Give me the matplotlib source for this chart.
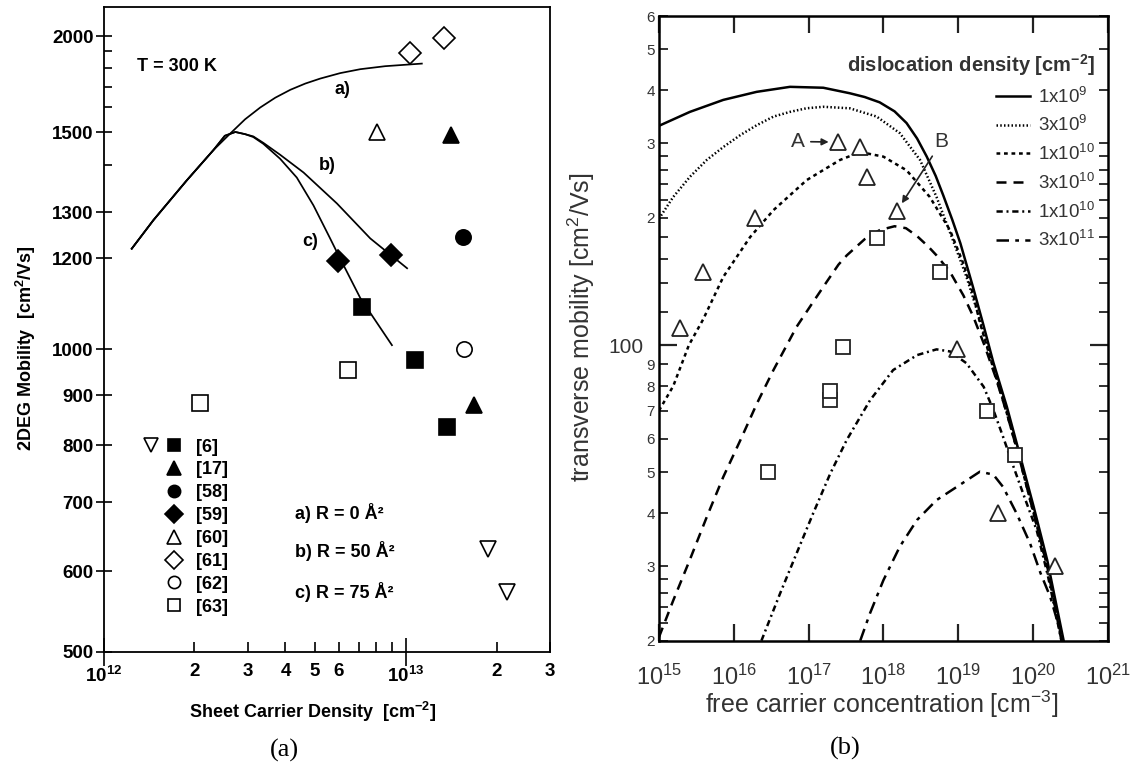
import numpy as np
import matplotlib
matplotlib.use('Agg')
import matplotlib.pyplot as plt
from matplotlib.lines import Line2D
from matplotlib.legend_handler import HandlerTuple
from matplotlib.ticker import NullLocator

plt.rcParams['font.family'] = ['Liberation Sans', 'DejaVu Sans']
plt.rcParams['mathtext.fontset'] = 'custom'
plt.rcParams['mathtext.rm'] = 'Liberation Sans'
plt.rcParams['mathtext.bf'] = 'Liberation Sans:bold'
plt.rcParams['mathtext.it'] = 'Liberation Sans:italic'

# ---------------- (a) 2DEG mobility vs sheet carrier density, T = 300 K
# measured points, one pair of lists per reference
ns_6 = [7.16e12, 1.07e13, 1.37e13]
mu_6 = [1088, 975, 835]
ns_6b = [1.87e13, 2.17e13]          # open down-triangles, also ref [6]
mu_6b = [630, 572]
ns_17 = [1.41e13, 1.68e13]
mu_17 = [1490, 880]
ns_58 = [1.55e13]
mu_58 = [1245]
ns_59 = [5.99e12, 8.95e12]
mu_59 = [1193, 1206]
ns_60 = [8.04e12]
mu_60 = [1500]
ns_61 = [1.035e13, 1.34e13]
mu_61 = [1890, 1985]
ns_62 = [1.56e13]
mu_62 = [1000]
ns_63 = [2.09e12, 6.46e12]
mu_63 = [884, 953]

# model curves a) R = 0, b) R = 50, c) R = 75 A^2
curve_a_ns = [1.24e12, 1.462e12, 1.886e12, 2.31e12, 2.62e12, 2.94e12, 3.30e12, 3.70e12, 4.15e12,
              4.65e12, 5.21e12, 6.07e12, 7.07e12, 8.55e12, 1.13e13]
curve_a_mu = [1220, 1282, 1367, 1445, 1495, 1551, 1599, 1647, 1687, 1719, 1745, 1774, 1795, 1812, 1827]
curve_b_ns = [1.24e12, 1.462e12, 1.886e12, 2.31e12, 2.52e12, 2.73e12, 2.94e12, 3.13e12, 3.38e12,
              3.84e12, 4.59e12, 5.92e12, 7.63e12, 1.01e13]
curve_b_mu = [1220, 1282, 1367, 1445, 1489, 1501, 1494, 1487, 1467, 1431, 1384, 1318, 1242, 1176]
curve_c_ns = [1.24e12, 1.462e12, 1.886e12, 2.31e12, 2.52e12, 2.73e12, 2.94e12, 3.13e12, 3.38e12,
              3.84e12, 4.36e12, 4.95e12, 5.62e12, 5.99e12, 7.07e12, 9.0e12]
curve_c_mu = [1220, 1282, 1367, 1445, 1489, 1501, 1494, 1485, 1464, 1419, 1373, 1314, 1242, 1206,
              1108, 1008]

# the printed mobility axis is not a clean log axis: tick values and their heights (px)
mu_ticks = [500, 600, 700, 800, 900, 1000, 1200, 1300, 1400, 1500, 1600, 1700, 1800, 1900, 2000, 2250]
mu_tick_h = [0, 81, 150, 207, 257, 303, 394, 440, 487, 520, 545, 565, 584, 601, 616, 645]

# ---------------- (b) transverse mobility vs free carrier concentration
n_1e9 = [1.0e15, 2.59e15, 7.24e15, 2.02e16, 5.64e16, 1.57e17, 3.55e17, 5.62e17, 8.91e17, 1.41e18,
         2.04e18, 2.82e18, 3.8e18, 5.01e18, 6.31e18, 8.32e18, 1.07e19, 1.58e19, 2.19e19, 2.95e19,
         4.47e19, 6.76e19, 1.02e20, 1.55e20, 2.57e20]
mu_1e9 = [330, 356, 380, 397, 408, 406, 394, 386, 375, 357, 335, 308, 279, 251, 226, 198, 174, 137,
          111, 91, 71.5, 54.5, 41.5, 31, 20]
n_3e9 = [1.0e15, 1.55e15, 2.59e15, 4.35e15, 7.24e15, 1.23e16, 2.02e16, 3.39e16, 5.64e16, 9.33e16,
         1.57e17, 3.55e17, 8.13e17, 1.66e18, 3.09e18, 5.13e18, 8.51e18, 1.29e19, 1.78e19, 2.95e19,
         4.47e19, 6.76e19, 1.02e20, 1.55e20, 2.45e20]
mu_3e9 = [199, 224, 250, 274, 294, 314, 331, 347, 356, 363, 366, 363, 347, 317, 274, 224, 177, 145,
          121, 89, 70, 53.5, 40.5, 30, 20]
n_1e10 = [1.0e15, 1.55e15, 2.51e15, 3.89e15, 7.24e15, 1.65e16, 3.39e16, 9.44e16, 2.63e17, 4.9e17,
          1.0e18, 2.04e18, 4.17e18, 7.76e18, 1.17e19, 1.58e19, 1.95e19, 2.95e19, 4.47e19, 6.76e19,
          1.02e20, 1.55e20, 2.45e20]
mu_1e10 = [70, 80, 100, 115, 145, 180, 208.5, 245.6, 274, 286, 279, 259, 224, 187, 156, 132, 113,
           88, 69, 53, 40, 30, 20]
n_3e10 = [1.0e15, 1.55e15, 2.57e15, 4.37e15, 7.24e15, 1.23e16, 2.04e16, 3.39e16, 6.92e16, 1.1e17,
          1.74e17, 2.51e17, 3.24e17, 5.62e17, 8.91e17, 1.41e18, 2.0e18, 2.82e18, 3.98e18, 5.13e18,
          7.76e18, 1.175e19, 1.585e19, 2.24e19, 3.16e19, 4.47e19, 6.76e19, 1.02e20, 1.55e20, 2.4e20]
mu_3e10 = [20.4, 24.9, 31, 39.3, 48.8, 59.7, 72.8, 87.3, 110.5, 125, 141, 155, 163, 178, 187, 191,
           189, 181, 171, 163, 149, 131, 117, 100, 84, 69, 53, 40, 30, 20]
n_1e11 = [2.34e16, 4.17e16, 6.92e16, 1.15e17, 1.95e17, 3.24e17, 6.61e17, 1.35e18, 2.82e18, 5.13e18,
          7.76e18, 1.29e19, 2.19e19, 2.95e19, 3.98e19, 5.5e19, 7.94e19, 1.12e20, 1.58e20, 2.4e20]
mu_1e11 = [20, 25.9, 32.2, 40, 49.7, 59.7, 74, 87.3, 94.7, 97.7, 96.6, 90.6, 79.7, 70.3, 60.7, 51.5,
           43, 36.5, 28.5, 20]
n_3e11 = [4.9e17, 6.61e17, 1.0e18, 1.66e18, 2.82e18, 5.13e18, 9.55e18, 1.95e19, 2.95e19, 3.98e19,
          6.03e19, 9.12e19, 1.26e20, 1.7e20, 2.29e20, 2.5e20]
mu_3e11 = [20, 23.2, 27.8, 33.4, 38.6, 43, 46.2, 50.2, 49.4, 46.2, 40, 34, 28.9, 25.4, 21.2, 20]

tri_n = [1.9e15, 3.9e15, 1.92e16, 2.5e17, 4.87e17, 6.0e17, 1.5e18, 9.5e18, 3.4e19, 1.97e20]
tri_mu = [110, 149, 200, 302, 294, 250, 207, 98, 40, 30]
sq_n = [2.9e16, 1.93e17, 1.93e17, 2.9e17, 8.1e17, 5.7e18, 2.4e19, 5.8e19]
sq_mu = [50, 74, 78, 99, 179, 149, 70, 55]

disl_labels = ['1x10$^{9}$', '3x10$^{9}$', '1x10$^{10}$', '3x10$^{10}$', '1x10$^{10}$', '3x10$^{11}$']

W, H = 1137, 765
fig = plt.figure(figsize=(W / 100, H / 100), dpi=100)

# ======================= panel (a)
ax = fig.add_axes([103.5 / W, 1 - 652 / H, 446.5 / W, 644.7 / H])
log_knots = np.log10(mu_ticks)


def fwd(v):
    return np.interp(np.log10(np.clip(v, 1e-9, None)), log_knots, mu_tick_h)


def inv(h):
    return 10 ** np.interp(h, mu_tick_h, log_knots)


ax.set_xscale('log')
ax.set_yscale('function', functions=(fwd, inv))
ax.set_xlim(1e12, 3e13)
ax.set_ylim(500, 2250)

lw = 1.25
for xs, ys in [(curve_a_ns, curve_a_mu), (curve_b_ns, curve_b_mu), (curve_c_ns, curve_c_mu)]:
    ax.plot(xs, ys, color='black', lw=lw, zorder=2, solid_joinstyle='round')

mk = dict(linestyle='none', color='black', mew=1.2, zorder=3)
h6, = ax.plot(ns_6, mu_6, marker='s', ms=11, **mk)
h6b, = ax.plot(ns_6b, mu_6b, marker='v', ms=12, mfc='white', **mk)
h17, = ax.plot(ns_17, mu_17, marker='^', ms=12, **mk)
h58, = ax.plot(ns_58, mu_58, marker='o', ms=11, **mk)
h59, = ax.plot(ns_59, mu_59, marker='D', ms=11, **mk)
h60, = ax.plot(ns_60, mu_60, marker='^', ms=12, mfc='white', **mk)
h61, = ax.plot(ns_61, mu_61, marker='D', ms=11, mfc='white', **mk)
h62, = ax.plot(ns_62, mu_62, marker='o', ms=11, mfc='white', **mk)
h63, = ax.plot(ns_63, mu_63, marker='s', ms=11, mfc='white', **mk)

blank = Line2D([], [], linestyle='none')
handles = [(h6b, h6), (blank, h17), (blank, h58), (blank, h59), (blank, h60),
           (blank, h61), (blank, h62), (blank, h63)]
ax.legend(handles, ['[6]', '[17]', '[58]', '[59]', '[60]', '[61]', '[62]', '[63]'],
          handler_map={tuple: HandlerTuple(ndivide=None, pad=0)}, numpoints=1,
          markerscale=0.8, loc='upper left', bbox_to_anchor=(0.0806, 0.331), frameon=False,
          borderpad=0, borderaxespad=0, handlelength=2.55, handletextpad=0.58,
          labelspacing=0.325, prop={'size': 13, 'weight': 'bold'})

ax.set_xticks([1e12, 1e13], [r'$\mathbf{10^{12}}$', r'$\mathbf{10^{13}}$'], fontweight='bold')
ax.set_xticks([2e12, 3e12, 4e12, 5e12, 6e12, 7e12, 8e12, 9e12, 2e13, 3e13],
              ['2', '3', '4', '5', '6', '', '', '', '2', '3'], minor=True, fontweight='bold')
lab_y = [500, 600, 700, 800, 900, 1000, 1200, 1300, 1500, 2000]
ax.set_yticks(lab_y, [str(v) for v in lab_y], fontweight='bold')
ax.set_yticks([1400, 1600, 1700, 1800, 1900], minor=True)
ax.tick_params(axis='x', which='major', direction='inout', length=20, width=1.2, pad=0, labelsize=13.5)
ax.tick_params(axis='x', which='minor', direction='in', length=7, width=1.2, pad=8, labelsize=13.5)
ax.tick_params(axis='y', which='major', direction='inout', length=11, width=1.2, pad=1.5, labelsize=13.5)
ax.tick_params(axis='y', which='minor', direction='in', length=6, width=1.2)
for s in ax.spines.values():
    s.set_linewidth(1.3)

ax.set_xlabel('Sheet Carrier Density  [cm$^{\\mathbf{-2}}$]', fontsize=13, fontweight='bold')
ax.xaxis.set_label_coords(0.468, -0.075)
ax.set_ylabel('2DEG Mobility  [cm$^{\\mathbf{2}}$/Vs]', fontsize=13, fontweight='bold')
ax.yaxis.set_label_coords(-0.147, 0.4715)

txt = dict(transform=ax.transAxes, fontsize=13, fontweight='bold', va='center')
ax.text(0.076, 0.908, 'T = 300 K', **txt)
ax.text(0.536, 0.872, 'a)', ha='center', **txt)
ax.text(0.500, 0.755, 'b)', ha='center', **txt)
ax.text(0.464, 0.636, 'c)', ha='center', **txt)
ax.text(0.428, 0.215, 'a) R = 0 Å²', **txt)
ax.text(0.428, 0.157, 'b) R = 50 Å²', **txt)
ax.text(0.428, 0.0935, 'c) R = 75 Å²', **txt)

# ======================= panel (b)
gray = '#333333'
bx = fig.add_axes([659 / W, 1 - 640.7 / H, 448.8 / W, 624.7 / H])
bx.set_xscale('log')
bx.set_yscale('log')
bx.set_xlim(1e15, 1e21)
bx.set_ylim(20, 600)

lwb = 1.8
bx.plot(n_1e9, mu_1e9, color='black', lw=lwb, ls='-', label=disl_labels[0])
bx.plot(n_3e9, mu_3e9, color='black', lw=lwb, ls=(0, (0.6, 0.9)), label=disl_labels[1])
bx.plot(n_1e10, mu_1e10, color='black', lw=lwb, ls=(0, (1.5, 1.5)), label=disl_labels[2])
bx.plot(n_3e10, mu_3e10, color='black', lw=lwb, ls=(0, (4, 2.8)), label=disl_labels[3])
bx.plot(n_1e11, mu_1e11, color='black', lw=lwb, ls=(0, (2.5, 1.5, 0.8, 1.5)), label=disl_labels[4])
bx.plot(n_3e11, mu_3e11, color='black', lw=lwb, ls=(0, (5, 2.5, 1.5, 2.5)), label=disl_labels[5])

bx.plot(tri_n, tri_mu, linestyle='none', marker='^', ms=11, mfc='white', mec='#222222', mew=1.3, zorder=4)
bx.plot(sq_n, sq_mu, linestyle='none', marker='s', ms=10, mfc='white', mec='#222222', mew=1.3, zorder=4)

bx.annotate('A', xy=(tri_n[3], tri_mu[3]), xycoords='data', xytext=(0.3104, 0.799),
            textcoords='axes fraction', fontsize=15, color=gray, ha='center', va='center',
            arrowprops=dict(arrowstyle='-|>', color='#222222', lw=1.2, shrinkA=2, shrinkB=7,
                            mutation_scale=10))
bx.annotate('B', xy=(tri_n[6], tri_mu[6]), xycoords='data', xytext=(0.63, 0.799),
            textcoords='axes fraction', fontsize=15, color=gray, ha='center', va='center',
            arrowprops=dict(arrowstyle='-|>', color='#222222', lw=1.2, shrinkA=2, shrinkB=7,
                            mutation_scale=10))

leg = bx.legend(loc='upper right', bbox_to_anchor=(0.9715, 0.9424), frameon=False, borderpad=0,
                borderaxespad=0, handlelength=1.8, handletextpad=0.43, labelspacing=0.46,
                title='dislocation density [cm$^{\\mathbf{-2}}$]', alignment='right',
                title_fontproperties={'size': 14.5, 'weight': 'bold'}, prop={'size': 13.5})
leg.get_title().set_color(gray)
for t in leg.get_texts():
    t.set_color(gray)

bx.set_xticks([1e15, 1e16, 1e17, 1e18, 1e19, 1e20, 1e21],
              [r'$10^{%d}$' % e for e in range(15, 22)])
bx.xaxis.set_minor_locator(NullLocator())
bx.set_yticks([100], ['100'])
minor_y = [20, 22, 24, 26, 28, 30, 40, 50, 60, 70, 80, 90, 120, 140, 160, 180, 200, 220, 240, 260,
           280, 300, 400, 500, 600]
minor_lab = ['2', '', '', '', '', '3', '4', '5', '6', '7', '8', '9', '', '', '', '', '2', '', '', '',
             '', '3', '4', '5', '6']
bx.set_yticks(minor_y, minor_lab, minor=True)
bx.tick_params(which='both', direction='in', top=True, right=True, colors='#222222', labelcolor=gray)
bx.tick_params(axis='x', which='major', length=12, width=1.6, pad=17, labelsize=17)
bx.tick_params(axis='y', which='major', length=13, width=1.6, pad=11, labelsize=15)
bx.tick_params(axis='y', which='minor', length=6.5, width=1.3, pad=3, labelsize=11)
for s in bx.spines.values():
    s.set_linewidth(1.8)

bx.set_xlabel('free carrier concentration [cm$^{-3}$]', fontsize=18, color=gray)
bx.xaxis.set_label_coords(0.495, -0.076)
bx.set_ylabel('transverse mobility [cm$^{2}$/Vs]', fontsize=18, color=gray)
bx.yaxis.set_label_coords(-0.138, 0.501)

fig.text(284 / W, 1 - 750 / H, '(a)', family='Liberation Serif', fontsize=19, ha='center', va='center')
fig.text(845 / W, 1 - 748 / H, '(b)', family='Liberation Serif', fontsize=19, ha='center', va='center')

fig.savefig('out.png', dpi=100, facecolor='white')
